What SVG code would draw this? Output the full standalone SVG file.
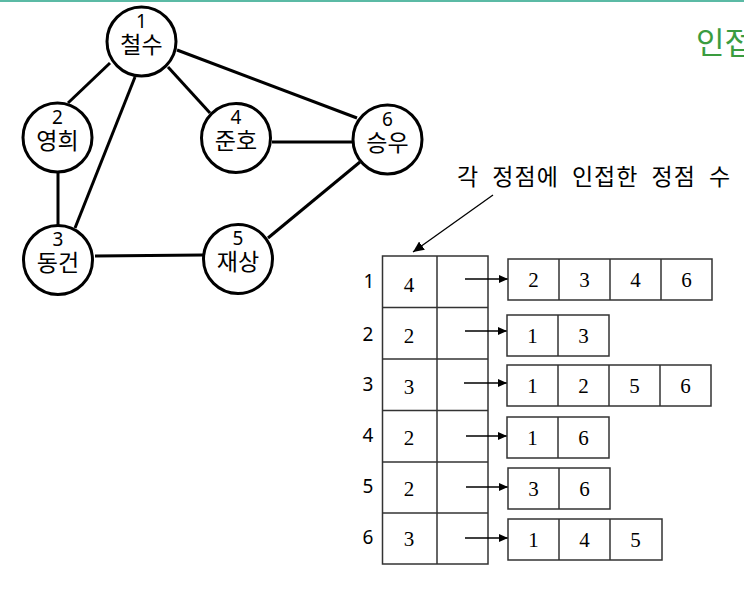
<svg xmlns="http://www.w3.org/2000/svg" width="744" height="592" viewBox="0 0 744 592">
<defs>
<style>
.edge{stroke:#000;stroke-width:3;fill:none}
.node circle{fill:#fff;stroke:#000;stroke-width:3}
.num{font-family:"Noto Sans","Liberation Sans",sans-serif;font-size:19px;text-anchor:middle;fill:#000}
.name{font-family:"Noto Sans CJK KR",sans-serif;font-size:23px;text-anchor:middle;fill:#000}
.cell{fill:#fff;stroke:#333;stroke-width:1.5}
.tline{stroke:#333;stroke-width:1.5}
.val{font-family:"Liberation Serif",serif;font-size:21px;text-anchor:middle;fill:#000}
.lab{font-family:"Noto Sans","Liberation Sans",sans-serif;font-size:19px;text-anchor:middle;fill:#000}
.ptr{stroke:#000;stroke-width:1.3;fill:none;marker-end:url(#ah)}
</style>
<marker id="ah" markerUnits="userSpaceOnUse" markerWidth="10" markerHeight="8" refX="9" refY="4" orient="auto">
<path d="M0,0 L9,4 L0,8 Z" fill="#000"/>
</marker>
<marker id="ah2" markerUnits="userSpaceOnUse" markerWidth="12" markerHeight="10" refX="11" refY="5" orient="auto">
<path d="M0,0 L11,5 L0,10 Z" fill="#000"/>
</marker>
</defs>
<rect width="744" height="592" fill="#fff"/>
<rect x="0" y="0" width="744" height="2" fill="#5bbaa5"/>
<text x="696" y="54" font-family="Noto Sans CJK KR,sans-serif" font-size="31" fill="#3a9c3f">인접</text>

<g id="edges">
<line class="edge" x1="110" y1="63" x2="68" y2="103"/>
<line class="edge" x1="135" y1="77" x2="75" y2="228"/>
<line class="edge" x1="168" y1="67" x2="210" y2="113"/>
<line class="edge" x1="177" y1="50" x2="357" y2="118"/>
<line class="edge" x1="272" y1="142" x2="353" y2="142"/>
<line class="edge" x1="58" y1="172" x2="58" y2="227"/>
<line class="edge" x1="95" y1="256" x2="203" y2="255"/>
<line class="edge" x1="268" y1="238" x2="360" y2="162"/>
</g>

<g id="node1" class="node"><circle cx="141.5" cy="41.5" r="34.5"/><text class="num" x="141.5" y="27.5">1</text><text class="name" x="141.5" y="53">철수</text></g>
<g id="node2" class="node"><circle cx="57.5" cy="137.5" r="34.5"/><text class="num" x="57.5" y="123.5">2</text><text class="name" x="57.5" y="149">영희</text></g>
<g id="node3" class="node"><circle cx="58" cy="260" r="34.5"/><text class="num" x="58" y="246">3</text><text class="name" x="58" y="271">동건</text></g>
<g id="node4" class="node"><circle cx="236" cy="138" r="34.5"/><text class="num" x="236" y="124">4</text><text class="name" x="236" y="149">준호</text></g>
<g id="node5" class="node"><circle cx="238" cy="259" r="34.5"/><text class="num" x="238" y="245">5</text><text class="name" x="238" y="270">재상</text></g>
<g id="node6" class="node"><circle cx="387.5" cy="139.5" r="34.5"/><text class="num" x="387.5" y="126">6</text><text class="name" x="387.5" y="151">승우</text></g>

<text x="457" y="185" font-family="Noto Sans CJK KR,sans-serif" font-size="23" letter-spacing="1" word-spacing="7" fill="#000">각 정점에 인접한 정점 수</text>
<line x1="493" y1="195" x2="413" y2="252" stroke="#000" stroke-width="1.3" marker-end="url(#ah2)"/>

<g id="table">
<rect class="cell" x="382.5" y="256" width="105.5" height="308"/>
<line class="tline" x1="437" y1="256" x2="437" y2="564"/>
<line class="tline" x1="382.5" y1="307.5" x2="488" y2="307.5"/>
<line class="tline" x1="382.5" y1="359" x2="488" y2="359"/>
<line class="tline" x1="382.5" y1="410.5" x2="488" y2="410.5"/>
<line class="tline" x1="382.5" y1="462" x2="488" y2="462"/>
<line class="tline" x1="382.5" y1="513" x2="488" y2="513"/>
<text class="lab" x="369" y="288">1</text>
<text class="lab" x="368" y="341">2</text>
<text class="lab" x="368" y="391">3</text>
<text class="lab" x="368" y="442">4</text>
<text class="lab" x="368" y="493">5</text>
<text class="lab" x="368" y="544">6</text>
<text class="val" x="409" y="292">4</text>
<text class="val" x="409" y="343">2</text>
<text class="val" x="409" y="394">3</text>
<text class="val" x="409" y="445">2</text>
<text class="val" x="409" y="496">2</text>
<text class="val" x="409" y="546">3</text>
</g>

<g id="connectors">
<line class="ptr" x1="465" y1="279" x2="508" y2="279"/>
<line class="ptr" x1="465" y1="331" x2="507" y2="331"/>
<line class="ptr" x1="464" y1="383" x2="507" y2="383"/>
<line class="ptr" x1="466" y1="436" x2="507" y2="436"/>
<line class="ptr" x1="466" y1="487" x2="508" y2="487"/>
<line class="ptr" x1="465" y1="538" x2="508" y2="538"/>
</g>

<g id="list1">
<rect class="cell" x="508" y="259" width="204" height="41"/>
<line class="tline" x1="559" y1="259" x2="559" y2="300"/><line class="tline" x1="610" y1="259" x2="610" y2="300"/><line class="tline" x1="661" y1="259" x2="661" y2="300"/>
<text class="val" x="533.5" y="287">2</text><text class="val" x="584.5" y="287">3</text><text class="val" x="635.5" y="287">4</text><text class="val" x="686.5" y="287">6</text>
</g>
<g id="list2">
<rect class="cell" x="507" y="315" width="102" height="41"/>
<line class="tline" x1="558" y1="315" x2="558" y2="356"/>
<text class="val" x="532.5" y="343">1</text><text class="val" x="583.5" y="343">3</text>
</g>
<g id="list3">
<rect class="cell" x="507" y="365" width="204" height="41"/>
<line class="tline" x1="558" y1="365" x2="558" y2="406"/><line class="tline" x1="609" y1="365" x2="609" y2="406"/><line class="tline" x1="660" y1="365" x2="660" y2="406"/>
<text class="val" x="532.5" y="393">1</text><text class="val" x="583.5" y="393">2</text><text class="val" x="634.5" y="393">5</text><text class="val" x="685.5" y="393">6</text>
</g>
<g id="list4">
<rect class="cell" x="507" y="417" width="102" height="41"/>
<line class="tline" x1="558" y1="417" x2="558" y2="458"/>
<text class="val" x="532.5" y="445">1</text><text class="val" x="583.5" y="445">6</text>
</g>
<g id="list5">
<rect class="cell" x="508" y="468" width="102" height="41"/>
<line class="tline" x1="559" y1="468" x2="559" y2="509"/>
<text class="val" x="533.5" y="496">3</text><text class="val" x="584.5" y="496">6</text>
</g>
<g id="list6">
<rect class="cell" x="508" y="519" width="154" height="41"/>
<line class="tline" x1="559" y1="519" x2="559" y2="560"/><line class="tline" x1="610" y1="519" x2="610" y2="560"/>
<text class="val" x="533.5" y="547">1</text><text class="val" x="584.5" y="547">4</text><text class="val" x="635.5" y="547">5</text>
</g>
</svg>
